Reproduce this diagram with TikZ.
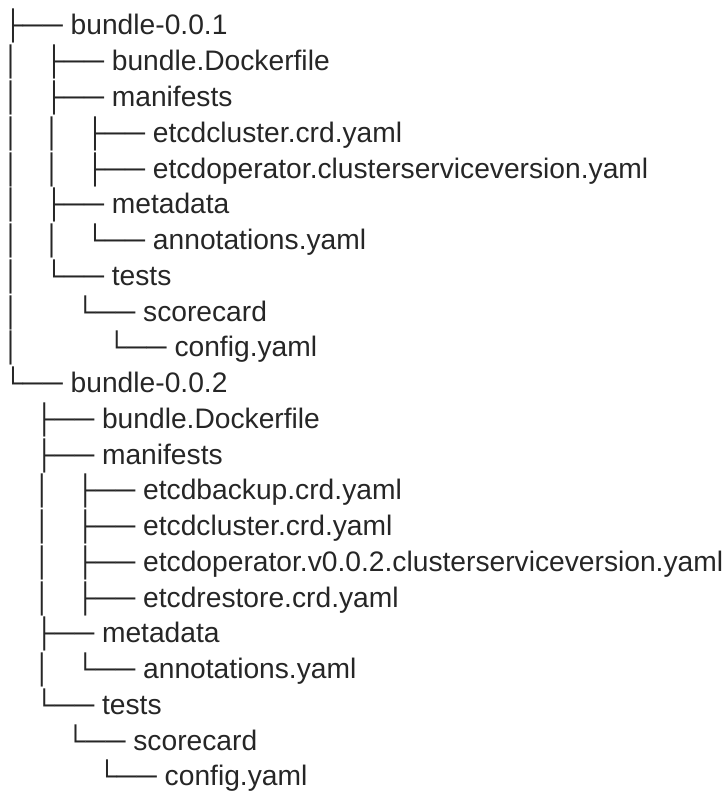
\documentclass[tikz,border=0pt]{standalone}
\usepackage{fontspec}
\setmainfont{Liberation Sans}
\definecolor{ink}{RGB}{38,38,38}
\newcommand\tVB{│\ \ \ }
\newcommand\tSP{\ \ \ \ }
\begin{document}
\begin{tikzpicture}[x=1pt,y=1pt,
  treeline/.style={anchor=base west, inner sep=0pt, outer sep=0pt,
    font=\fontsize{28.2}{34}\selectfont, text=ink}]
\useasboundingbox (0,0) rectangle (725,-791);
\node[treeline] (r0)  at (3,{-35-35.76*0})  {├──\ bundle-0.0.1};
\node[treeline] (r1)  at (3,{-35-35.76*1})  {\tVB├──\ bundle.Dockerfile};
\node[treeline] (r2)  at (3,{-35-35.76*2})  {\tVB├──\ manifests};
\node[treeline] (r3)  at (3,{-35-35.76*3})  {\tVB\tVB├──\ etcdcluster.crd.yaml};
\node[treeline] (r4)  at (3,{-35-35.76*4})  {\tVB\tVB├──\ etcdoperator.clusterserviceversion.yaml};
\node[treeline] (r5)  at (3,{-35-35.76*5})  {\tVB├──\ metadata};
\node[treeline] (r6)  at (3,{-35-35.76*6})  {\tVB\tVB└──\ annotations.yaml};
\node[treeline] (r7)  at (3,{-35-35.76*7})  {\tVB└──\ tests};
\node[treeline] (r8)  at (3,{-35-35.76*8})  {\tVB\tSP└──\ scorecard};
\node[treeline] (r9)  at (3,{-35-35.76*9})  {\tVB\tSP\tSP└──\ config.yaml};
\node[treeline] (r10) at (3,{-35-35.76*10}) {└──\ bundle-0.0.2};
\node[treeline] (r11) at (3,{-35-35.76*11}) {\tSP├──\ bundle.Dockerfile};
\node[treeline] (r12) at (3,{-35-35.76*12}) {\tSP├──\ manifests};
\node[treeline] (r13) at (3,{-35-35.76*13}) {\tSP\tVB├──\ etcdbackup.crd.yaml};
\node[treeline] (r14) at (3,{-35-35.76*14}) {\tSP\tVB├──\ etcdcluster.crd.yaml};
\node[treeline] (r15) at (3,{-35-35.76*15}) {\tSP\tVB├──\ etcdoperator.v0.0.2.clusterserviceversion.yaml};
\node[treeline] (r16) at (3,{-35-35.76*16}) {\tSP\tVB├──\ etcdrestore.crd.yaml};
\node[treeline] (r17) at (3,{-35-35.76*17}) {\tSP├──\ metadata};
\node[treeline] (r18) at (3,{-35-35.76*18}) {\tSP\tVB└──\ annotations.yaml};
\node[treeline] (r19) at (3,{-35-35.76*19}) {\tSP└──\ tests};
\node[treeline] (r20) at (3,{-35-35.76*20}) {\tSP\tSP└──\ scorecard};
\node[treeline] (r21) at (3,{-35-35.76*21}) {\tSP\tSP\tSP└──\ config.yaml};
\end{tikzpicture}
\end{document}
